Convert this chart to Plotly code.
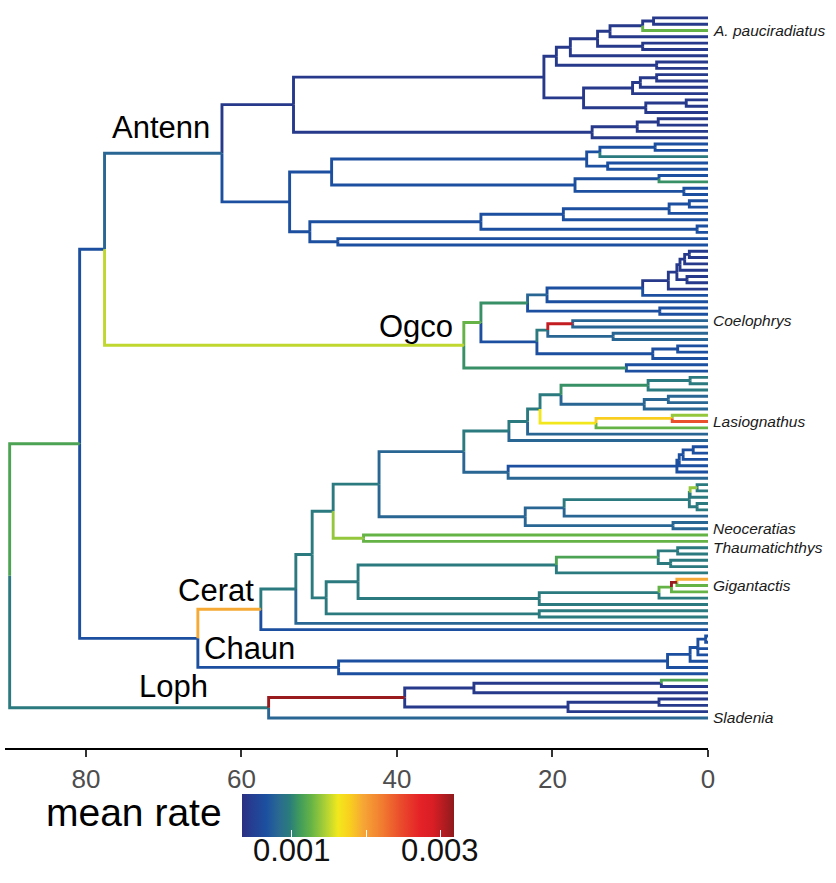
import plotly.graph_objects as go
from plotly.colors import sample_colorscale

# ---- colour scale for the mean substitution rate ----
rate_colorscale = [
    [0.00, "#2b2f80"], [0.05, "#253f92"], [0.115, "#1c50a0"], [0.17, "#2a6892"],
    [0.225, "#2a7d7c"], [0.27, "#3f9a5c"], [0.327, "#66b446"], [0.39, "#a9cf37"],
    [0.453, "#f2e81c"], [0.51, "#f9ce1f"], [0.57, "#f6a735"], [0.665, "#f17a30"],
    [0.744, "#ea4e2c"], [0.84, "#e42227"], [0.90, "#d91e25"], [1.00, "#8f1a1c"],
]
rate_min, rate_max = 0.00033, 0.00319
rate_ticks = [0.001, 0.002, 0.003]
rate_ticktext = ["0.001", "", "0.003"]

# ---- branch rates ----
NAVY, BLUE, STEEL, TEAL = 0.00042, 0.00065, 0.00080, 0.00095
TGREEN, GREEN2, GREEN, LGREEN = 0.00106, 0.00116, 0.00126, 0.00139
YGREEN, YELLOW, GOLD, ORANGE = 0.00150, 0.00163, 0.00179, 0.00195
REDO, RED, DRED = 0.00245, 0.00299, 0.00315

# ---- tree: internal node = [age (Ma), rate of branch leading to it, *children]; tip = rate ----
antenn = [62.5, STEEL,
    [53.3, NAVY,
        [21.1, NAVY,
            [19.5, NAVY,
                [17.7, NAVY,
                    [14.2, NAVY,
                        [12.6, NAVY,
                            [8.4, NAVY, [7.0, NAVY, NAVY, NAVY], GREEN],
                            NAVY],
                        [8.4, NAVY, NAVY, NAVY]],
                    NAVY],
                [6.6, NAVY, NAVY, NAVY]],
            [16.0, NAVY,
                [9.7, NAVY, [8.7, NAVY, [6.6, NAVY, NAVY, NAVY], NAVY], NAVY],
                [8.0, NAVY, [2.8, NAVY, NAVY, NAVY], NAVY]]],
        [14.9, NAVY, [9.1, NAVY, [6.4, NAVY, NAVY, NAVY], NAVY], NAVY]],
    [53.8, BLUE,
        [48.4, BLUE,
            [15.6, BLUE,
                [13.9, BLUE, [6.8, BLUE, BLUE, BLUE], TEAL],
                [12.9, BLUE, BLUE, BLUE]],
            [17.1, BLUE,
                [6.3, BLUE, BLUE, TGREEN],
                [3.1, BLUE, BLUE, BLUE]]],
        [51.2, BLUE,
            [29.2, BLUE,
                [18.6, BLUE, [5.0, BLUE, [2.4, BLUE, BLUE, BLUE], BLUE], BLUE],
                [1.4, BLUE, BLUE, BLUE]],
            [47.6, BLUE, BLUE, BLUE]]]]

ogco = [31.4, YGREEN,
    [29.2, GREEN,
        [23.2, TGREEN,
            [20.7, STEEL,
                [8.4, BLUE,
                    [5.1, NAVY,
                        [4.0, NAVY,
                            [3.6, NAVY, [3.0, NAVY, [2.4, NAVY, NAVY, NAVY], NAVY], NAVY],
                            [2.7, NAVY, NAVY, NAVY]],
                        NAVY],
                    BLUE],
                BLUE],
            [6.2, BLUE, BLUE, BLUE]],
        [22.0, BLUE,
            [20.6, TEAL,
                [17.4, RED, STEEL, STEEL],
                [12.2, STEEL, STEEL, STEEL]],
            [7.1, BLUE, [3.9, BLUE, BLUE, BLUE], BLUE]]],
    [10.5, TGREEN, BLUE, BLUE]]

cerat = [57.5, ORANGE,
    [53.0, TEAL,
        [50.9, TEAL,
            [48.2, TEAL,
                [42.3, TEAL,
                    [31.4, STEEL,
                        [25.6, TEAL,
                            [23.2, TEAL,
                                [21.6, TEAL,
                                    [18.9, TEAL,
                                        [7.7, TGREEN, [2.3, TEAL, TEAL, TEAL], TEAL],
                                        [8.2, STEEL, [5.1, STEEL, STEEL, STEEL], STEEL]],
                                    [14.4, YELLOW, [4.6, GOLD, LGREEN, REDO], GREEN]],
                                STEEL],
                            STEEL],
                        [25.7, STEEL,
                            [4.0, BLUE,
                                [3.7, BLUE, [3.2, BLUE, [1.9, BLUE, BLUE, BLUE], BLUE], BLUE],
                                BLUE],
                            STEEL]],
                    [23.5, STEEL,
                        [18.5, STEEL,
                            [2.4, TEAL,
                                [2.3, TEAL, [1.4, LGREEN, TEAL, TEAL], TEAL],
                                [1.4, TEAL, TEAL, TEAL]],
                            STEEL],
                        [4.5, STEEL, STEEL, STEEL]]],
                [44.3, LGREEN, GREEN, GREEN]],
            [49.1, TEAL,
                [45.0, TEAL,
                    [19.5, TEAL,
                        [6.4, GREEN2, [3.9, TEAL, TEAL, TEAL], [4.8, TEAL, TEAL, TEAL]],
                        TEAL],
                    [21.7, TEAL,
                        [6.3, TEAL,
                            [4.7, GREEN, [4.0, DRED, ORANGE, GREEN], GREEN],
                            TEAL],
                        TEAL]],
                [21.7, TEAL, TEAL, TEAL]]],
        STEEL],
    BLUE]

chaun = [47.5, BLUE,
    [5.2, BLUE,
        [2.3, BLUE, [1.3, BLUE, [0.3, BLUE, BLUE, BLUE], BLUE, BLUE], BLUE],
        BLUE],
    BLUE]

loph = [56.5, TEAL,
    [39.0, DRED,
        [30.1, NAVY, [6.0, NAVY, GREEN2, NAVY], NAVY],
        [18.0, NAVY, [6.3, NAVY, NAVY, NAVY], NAVY]],
    STEEL]

root_age = 89.8
tree = [root_age, None,
        [80.8, GREEN2,
            [77.6, BLUE, antenn, ogco],
            [65.6, BLUE, cerat, chaun]],
        loph]

# labelled tips, by position from the top
tip_labels = {2: "A. pauciradiatus", 48: "Coelophrys", 64: "Lasiognathus",
              81: "Neoceratias", 84: "Thaumatichthys", 90: "Gigantactis",
              111: "Sladenia"}

# clade names: (text, age, tip position)
clade_labels = [("Antenn", 70.3, 17.3), ("Ogco", 37.5, 48.9), ("Cerat", 63.3, 90.8),
                ("Chaun", 58.9, 100.0), ("Loph", 68.7, 106.0)]

age_ticks = [80, 60, 40, 20, 0]

# ---- rectangular layout: tips stacked, internal nodes at the mean of their children ----
tip_rates = []
branches = []


def place(node):
    if not isinstance(node, list):
        y = float(len(tip_rates))
        tip_rates.append(node)
        return y, 0.0, node
    age, rate, *kids = node
    placed = [place(k) for k in kids]
    y = sum(p[0] for p in placed) / len(placed)
    for cy, cage, crate in placed:
        branches.append((crate, [age, age, cage], [y, cy, cy]))
    return y, age, rate


place(tree)
n_tips = len(tip_rates)

by_rate = {}
for rate, xs, ys in branches:
    bx, by = by_rate.setdefault(rate, ([], []))
    bx.extend(xs + [None])
    by.extend(ys + [None])

fig = go.Figure()
for rate, (bx, by) in sorted(by_rate.items()):
    frac = (rate - rate_min) / (rate_max - rate_min)
    colour = sample_colorscale(rate_colorscale, [frac])[0]
    fig.add_trace(go.Scatter(x=bx, y=by, mode="lines",
                             line=dict(color=colour, width=2.9),
                             hoverinfo="skip", showlegend=False))

# colour bar (pixel geometry of the legend box)
bar_left, bar_len, bar_top, bar_thick = 242.3, 212, 794, 43
fig.add_trace(go.Scatter(
    x=[0], y=[0], mode="markers", hoverinfo="skip", showlegend=False,
    marker=dict(size=1, opacity=0, color=[rate_min], colorscale=rate_colorscale,
                cmin=rate_min, cmax=rate_max, showscale=True,
                colorbar=dict(orientation="h", xref="paper", yref="container",
                              x=(bar_left - 5) / 703, xanchor="left",
                              y=(883 - bar_top) / 883, yanchor="top",
                              len=bar_len, lenmode="pixels", thickness=bar_thick,
                              outlinewidth=0, xpad=0, ypad=0,
                              tickvals=rate_ticks, ticks="inside", ticklen=7,
                              tickcolor="white", showticklabels=False))))

annotations = []
for idx, name in tip_labels.items():
    annotations.append(dict(x=0, y=idx, xref="x", yref="y", text=f"<i>{name}</i>",
                            xanchor="left", yanchor="middle", xshift=3, showarrow=False,
                            font=dict(size=15.5, family="Liberation Sans, Arial",
                                      color="#1a1a1a")))
for text, ax, ay in clade_labels:
    annotations.append(dict(x=ax, y=ay, xref="x", yref="y", text=text,
                            xanchor="center", yanchor="middle", showarrow=False,
                            font=dict(size=31, family="Liberation Sans, Arial",
                                      color="black")))
annotations.append(dict(x=(133.5 - 5) / 703, y=(752 - 817) / 752, xref="paper", yref="paper",
                        text="mean rate", xanchor="center", yanchor="middle",
                        showarrow=False,
                        font=dict(size=39, family="Liberation Sans, Arial", color="black")))
# colour-bar tick labels placed along the bar by value
for val, txt in zip(rate_ticks, rate_ticktext):
    if not txt:
        continue
    px = bar_left + (val - rate_min) / (rate_max - rate_min) * bar_len
    annotations.append(dict(x=(px - 5) / 703, y=(752 - 855) / 752, xref="paper", yref="paper",
                            text=txt, xanchor="center", yanchor="middle", showarrow=False,
                            font=dict(size=31, family="Liberation Sans, Arial",
                                      color="#111111")))

tip_gap = 704 / (n_tips - 1)
fig.update_layout(
    width=836, height=883,
    margin=dict(l=5, r=128, t=0, b=131),
    paper_bgcolor="white", plot_bgcolor="white",
    annotations=annotations,
    xaxis=dict(range=[90.4, 0], tickvals=age_ticks, ticktext=[str(t) for t in age_ticks],
               showgrid=False, zeroline=False, showline=True, linecolor="black",
               linewidth=2, ticks="outside", ticklen=7, tickwidth=2, tickcolor="#333333",
               tickfont=dict(size=26, family="Liberation Sans Narrow, Liberation Sans, Arial",
                             color="#4d4d4d")),
    yaxis=dict(range=[(752 - 18) / tip_gap, -18 / tip_gap], visible=False,
               showgrid=False, zeroline=False),
)

fig.write_html("out.html")
